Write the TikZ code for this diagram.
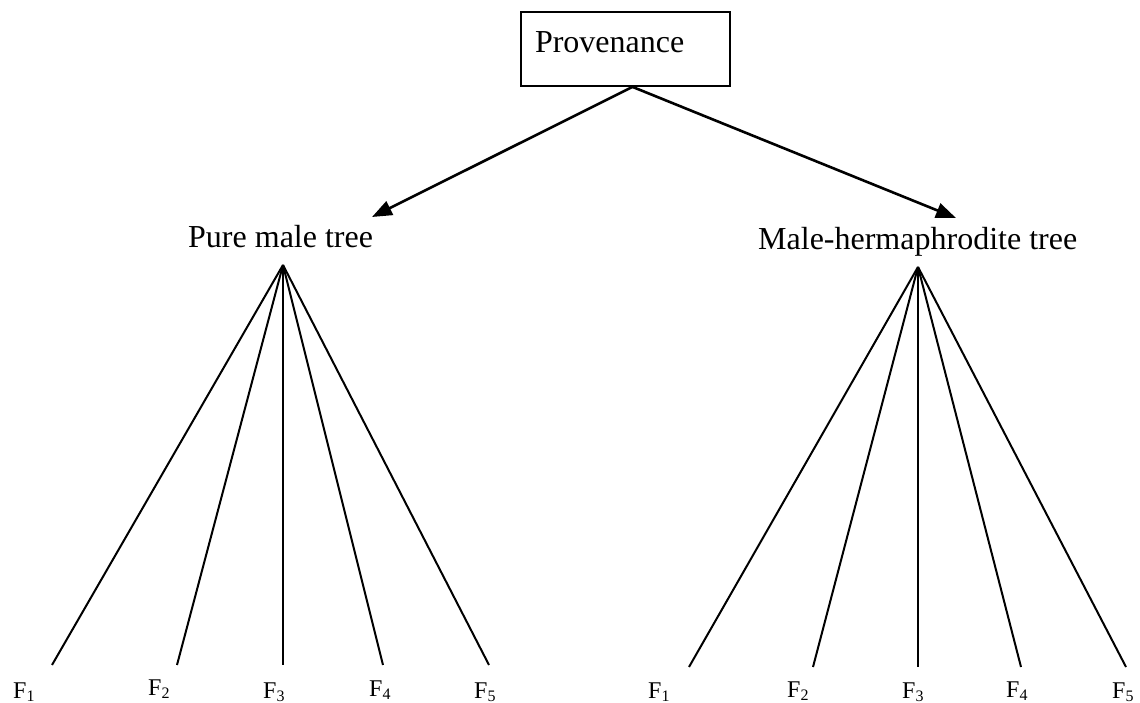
\documentclass[tikz,border=0pt]{standalone}
\usepackage{fontspec}
\setmainfont{Liberation Serif}
\usetikzlibrary{arrows.meta}
\newcommand\Fsub[1]{F{\fontsize{16}{16}\selectfont\raisebox{-2.5pt}{#1}}}
\tikzset{
  big/.style={font=\fontsize{32}{36}\selectfont, inner sep=0pt, anchor=base west},
  leaf/.style={font=\fontsize{24}{28}\selectfont, inner sep=0pt, anchor=base west},
  edge/.style={line width=2pt},
  arr/.style={line width=2.6pt, -{Triangle[length=20pt,width=15pt]}},
}
\begin{document}
\begin{tikzpicture}[x=1pt,y=1pt]
\useasboundingbox (0,0) rectangle (1140,703);
% root box
\node[draw, line width=1.8pt, minimum height=74pt, text width=181pt, inner xsep=14pt,
      text depth=14pt, align=left, font=\fontsize{32}{36}\selectfont] (prov) at (625.5,654) {Provenance};
% arrow tips
\coordinate (tipL) at (372,486);
\coordinate (tipR) at (956,485);
\draw[arr] ([xshift=7pt]prov.south) -- (tipL);
\draw[arr] ([xshift=7pt]prov.south) -- (tipR);
% subtree labels
\node[big] (pm) at (188,455) {Pure male tree};
\node[big] (mh) at (758,453) {Male-hermaphrodite tree};
% apexes
\coordinate (aL) at (283,438);
\coordinate (aR) at (918,436);
% left leaves
\coordinate (l1) at (52,38);
\coordinate (l2) at (177,38);
\coordinate (l3) at (283,38);
\coordinate (l4) at (383,38);
\coordinate (l5) at (489,38);
% right leaves
\coordinate (r1) at (689,36);
\coordinate (r2) at (813,36);
\coordinate (r3) at (918,36);
\coordinate (r4) at (1021,36);
\coordinate (r5) at (1126,36);
\foreach \i in {1,...,5} {
  \draw[edge] (aL) -- (l\i);
  \draw[edge] (aR) -- (r\i);
}
% leaf labels
\node[leaf] (fl1) at (13,4) {\Fsub{1}};
\node[leaf] (fl2) at (148,7) {\Fsub{2}};
\node[leaf] (fl3) at (263,4) {\Fsub{3}};
\node[leaf] (fl4) at (369,6) {\Fsub{4}};
\node[leaf] (fl5) at (474,4) {\Fsub{5}};
\node[leaf] (fr1) at (648,4) {\Fsub{1}};
\node[leaf] (fr2) at (787,5) {\Fsub{2}};
\node[leaf] (fr3) at (902,4) {\Fsub{3}};
\node[leaf] (fr4) at (1006,5) {\Fsub{4}};
\node[leaf] (fr5) at (1112,4) {\Fsub{5}};
\end{tikzpicture}
\end{document}
